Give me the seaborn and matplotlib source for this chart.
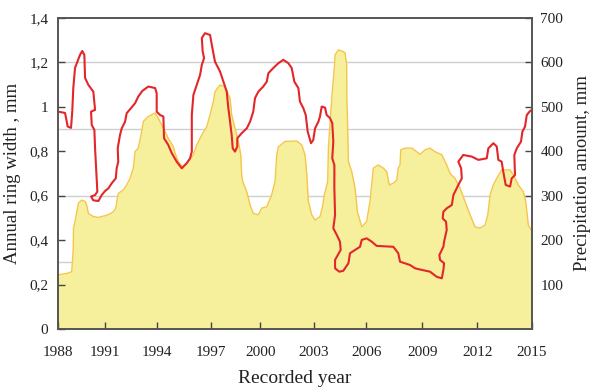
import numpy as np
import pandas as pd
import matplotlib
matplotlib.use('Agg')
import matplotlib.pyplot as plt
from matplotlib.ticker import FuncFormatter
import seaborn as sns

# precipitation amount, mm (yellow area)
precip_year = [1988.02, 1988.50, 1988.78, 1988.87, 1988.88, 1988.97, 1989.07, 1989.16, 1989.35, 1989.54,
               1989.63, 1989.73, 1990.01, 1990.30, 1990.68, 1990.96, 1991.15, 1991.29, 1991.43, 1991.72,
               1991.91, 1992.10, 1992.29, 1992.39, 1992.57, 1992.73, 1992.86, 1993.14, 1993.53, 1993.71,
               1994.00, 1994.28, 1994.57, 1994.66, 1994.85, 1995.08, 1995.33, 1995.71, 1995.90, 1996.19,
               1996.47, 1996.66, 1996.85, 1996.94, 1997.23, 1997.51, 1997.80, 1997.89, 1998.08, 1998.27,
               1998.41, 1998.46, 1998.52, 1998.75, 1998.94, 1999.12, 1999.41, 1999.60, 1999.89, 2000.17,
               2000.36, 2000.46, 2000.55, 2000.93, 2001.60, 2001.88, 2002.07, 2002.17, 2002.26, 2002.45,
               2002.64, 2002.92, 2003.05, 2003.17, 2003.36, 2003.40, 2003.49, 2003.62, 2003.74, 2003.78,
               2003.97, 2004.25, 2004.35, 2004.44, 2004.45, 2004.48, 2004.54, 2004.73, 2004.92, 2005.05,
               2005.30, 2005.58, 2005.77, 2005.96, 2006.24, 2006.53, 2006.72, 2006.87, 2007.10, 2007.29,
               2007.38, 2007.48, 2007.52, 2007.77, 2008.15, 2008.43, 2008.62, 2008.90, 2009.19, 2009.47,
               2009.86, 2010.14, 2010.33, 2010.61, 2010.90, 2011.18, 2011.47, 2011.75, 2012.04, 2012.32,
               2012.48, 2012.61, 2012.79, 2012.99, 2013.27, 2013.75, 2013.93, 2014.22, 2014.50, 2014.64,
               2014.79, 2015.00]
precip_mm = [122, 125, 129, 182, 227, 242, 264, 283, 290, 287,
             279, 260, 253, 251, 255, 259, 264, 272, 305, 313,
             324, 339, 362, 399, 407, 437, 467, 478, 486, 474,
             452, 429, 410, 396, 377, 365, 373, 392, 414, 437,
             455, 482, 512, 534, 549, 545, 519, 482, 452, 422,
             392, 347, 332, 309, 279, 260, 257, 272, 275, 302,
             332, 392, 410, 422, 423, 414, 392, 347, 287, 257,
             245, 253, 272, 302, 332, 407, 459, 534, 587, 617,
             628, 624, 621, 594, 519, 482, 377, 354, 317, 264,
             230, 242, 287, 362, 369, 362, 354, 324, 328, 335,
             362, 369, 403, 407, 407, 399, 393, 403, 407, 399,
             392, 369, 350, 339, 317, 287, 257, 230, 227, 234,
             257, 302, 324, 339, 358, 358, 347, 324, 309, 287,
             234, 219]

# annual ring width, mm (red line)
ring_year = [1988.02, 1988.40, 1988.55, 1988.74, 1988.81, 1988.87, 1988.97, 1989.07, 1989.25, 1989.38,
             1989.50, 1989.54, 1989.73, 1990.01, 1990.11, 1989.88, 1989.92, 1990.07, 1990.11, 1990.20,
             1990.24, 1990.11, 1989.88, 1990.01, 1990.30, 1990.49, 1990.68, 1990.87, 1991.06, 1991.29,
             1991.34, 1991.43, 1991.40, 1991.53, 1991.63, 1991.82, 1991.91, 1992.16, 1992.39, 1992.57,
             1992.80, 1993.14, 1993.53, 1993.62, 1993.62, 1993.81, 1994.00, 1994.04, 1994.28, 1994.48,
             1994.76, 1995.05, 1995.33, 1995.52, 1995.62, 1995.62, 1995.71, 1995.90, 1996.09, 1996.19,
             1996.32, 1996.24, 1996.19, 1996.37, 1996.66, 1996.76, 1996.94, 1997.23, 1997.42, 1997.61,
             1997.70, 1997.80, 1997.89, 1997.95, 1998.08, 1998.21, 1998.21, 1998.46, 1998.75, 1998.94,
             1999.12, 1999.22, 1999.41, 1999.69, 1999.89, 1999.98, 2000.26, 2000.55, 2000.83, 2001.12,
             2001.31, 2001.46, 2001.69, 2001.78, 2001.97, 2002.11, 2002.22, 2002.41, 2002.54, 2002.64,
             2002.83, 2002.92, 2003.02, 2003.21, 2003.30, 2003.49, 2003.62, 2003.68, 2003.62, 2003.74,
             2003.74, 2003.78, 2003.68, 2003.88, 2004.06, 2004.10, 2003.78, 2003.78, 2004.02, 2004.25,
             2004.54, 2004.63, 2004.92, 2005.20, 2005.30, 2005.58, 2005.87, 2006.15, 2007.10, 2007.38,
             2007.48, 2008.05, 2008.34, 2008.72, 2009.19, 2009.57, 2009.86, 2009.95, 2009.99, 2009.76,
             2009.72, 2009.95, 2009.99, 2010.14, 2010.10, 2009.91, 2009.95, 2010.14, 2010.43, 2010.52,
             2010.80, 2011.00, 2010.96, 2010.80, 2011.08, 2011.56, 2011.94, 2012.42, 2012.51, 2012.80,
             2012.99, 2013.08, 2013.27, 2013.36, 2013.50, 2013.75, 2013.84, 2014.03, 2013.99, 2014.13,
             2014.37, 2014.45, 2014.60, 2014.70, 2014.89, 2015.00]
ring_mm = [0.978, 0.972, 0.911, 0.905, 0.978, 1.085, 1.175, 1.196, 1.233, 1.251,
           1.233, 1.130, 1.098, 1.068, 0.986, 0.978, 0.918, 0.896, 0.813, 0.680,
           0.618, 0.603, 0.596, 0.579, 0.576, 0.603, 0.621, 0.633, 0.656, 0.678,
           0.723, 0.753, 0.813, 0.873, 0.903, 0.933, 0.971, 0.994, 1.016, 1.046,
           1.071, 1.091, 1.084, 1.061, 0.978, 0.963, 0.956, 0.858, 0.828, 0.791,
           0.753, 0.723, 0.746, 0.768, 0.798, 0.963, 1.053, 1.098, 1.143, 1.188,
           1.219, 1.248, 1.309, 1.331, 1.323, 1.278, 1.203, 1.158, 1.113, 1.068,
           0.994, 0.933, 0.873, 0.813, 0.798, 0.821, 0.858, 0.881, 0.903, 0.933,
           0.978, 1.039, 1.068, 1.091, 1.113, 1.151, 1.174, 1.196, 1.211, 1.196,
           1.174, 1.113, 1.084, 1.023, 0.994, 0.963, 0.888, 0.836, 0.851, 0.903,
           0.933, 0.956, 1.001, 0.996, 0.963, 0.949, 0.926, 0.843, 0.768, 0.738,
           0.633, 0.513, 0.453, 0.423, 0.393, 0.356, 0.311, 0.273, 0.258, 0.262,
           0.296, 0.341, 0.356, 0.370, 0.401, 0.408, 0.393, 0.374, 0.370, 0.341,
           0.303, 0.288, 0.273, 0.266, 0.258, 0.235, 0.228, 0.266, 0.296, 0.311,
           0.333, 0.370, 0.393, 0.446, 0.483, 0.498, 0.528, 0.543, 0.558, 0.603,
           0.648, 0.678, 0.723, 0.753, 0.783, 0.776, 0.761, 0.768, 0.813, 0.836,
           0.821, 0.761, 0.753, 0.708, 0.648, 0.641, 0.678, 0.693, 0.783, 0.813,
           0.843, 0.888, 0.911, 0.963, 0.981, 0.986]

tick_labels = ['1988', '1991', '1994', '1997', '2000', '2003', '2006', '2009', '2012', '2015']
tick_pos = [1988, 1990.69, 1993.62, 1996.70, 1999.53, 2002.56, 2005.56, 2008.74, 2011.88, 2015]
ring_ticks = [0, 0.2, 0.4, 0.6, 0.8, 1.0, 1.2, 1.4]
precip_ticks = [100, 200, 300, 400, 500, 600, 700]
grid_mm = [150, 300, 450, 600]

sns.set_style('ticks')
plt.rcParams['font.family'] = ['Liberation Serif', 'DejaVu Serif']

fig = plt.figure(figsize=(5.97, 3.88), dpi=100)
ax = fig.add_axes([0.0972, 0.152, 0.7940, 0.802])
ax2 = ax.twinx()
ax.set_zorder(ax2.get_zorder() + 1)
ax.patch.set_visible(False)

for g in grid_mm:
    ax2.axhline(g, color='#cfcfcf', lw=1.0, zorder=0)
ax2.fill_between(precip_year, precip_mm, 0, color='#f6f09c', zorder=1, lw=0)
ax2.plot(precip_year, precip_mm, color='#f4c64a', lw=1.0, zorder=2)

ring = pd.DataFrame({'year': ring_year, 'width': ring_mm})
sns.lineplot(data=ring, x='year', y='width', sort=False, estimator=None,
             color='#e3262a', lw=1.5, ax=ax)

ax.set_xlim(1988, 2015)
ax.set_ylim(0, 1.4)
ax2.set_ylim(0, 700)

ax.set_xticks(tick_pos)
ax.set_xticklabels(tick_labels)
ax.set_yticks(ring_ticks)
ax.yaxis.set_major_formatter(FuncFormatter(lambda v, p: ('%g' % round(v, 1)).replace('.', ',')))
ax2.set_yticks(precip_ticks)

for a in (ax, ax2):
    a.tick_params(direction='in', length=5, width=1, color='#444444', labelsize=11, labelcolor='#222222')
    for s in a.spines.values():
        s.set_color('#555555')
        s.set_linewidth(1.2)
        s.set_visible(True)
ax.tick_params(axis='x', pad=12)
ax.tick_params(axis='y', pad=7)
ax2.tick_params(axis='y', pad=6)

ax.set_xlabel('Recorded year', fontsize=14, color='#222222', labelpad=8)
ax.set_ylabel('Annual ring width , mm', fontsize=13.5, color='#222222', labelpad=6)
ax2.set_ylabel('Precipitation amount, mm', fontsize=13.5, color='#222222', labelpad=8)

fig.savefig('out.png', dpi=100)
